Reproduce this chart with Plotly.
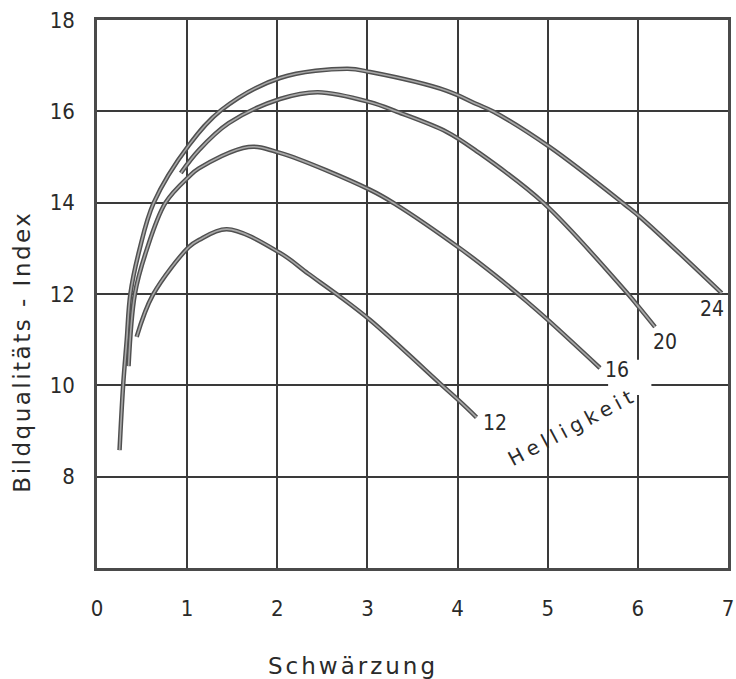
import plotly.graph_objects as go

# Helligkeit 24
x24 = [0.25, 0.29, 0.33, 0.37, 0.47, 0.63, 1.02, 1.38, 2.03, 2.78, 3.03, 3.88, 4.21, 4.40, 5.02, 5.86, 6.04, 6.93]
y24 = [8.58, 10.0, 11.0, 12.0, 12.96, 14.0, 15.26, 16.03, 16.73, 16.93, 16.86, 16.45, 16.16, 15.99, 15.22, 13.95, 13.66, 12.02]
# Helligkeit 20
x20 = [0.93, 1.13, 1.46, 2.03, 2.45, 3.03, 3.33, 3.88, 4.21, 4.95, 5.89, 6.0, 6.19]
y20 = [14.65, 15.15, 15.74, 16.27, 16.42, 16.2, 15.99, 15.55, 15.13, 14.0, 12.0, 11.74, 11.28]
# Helligkeit 16
x16 = [0.35, 0.42, 0.55, 0.76, 1.02, 1.13, 1.68, 2.03, 3.03, 3.30, 4.04, 4.41, 4.76, 5.02, 5.58]
y16 = [10.42, 12.0, 12.96, 14.0, 14.57, 14.75, 15.22, 15.09, 14.28, 13.98, 12.98, 12.42, 11.85, 11.40, 10.38]
# Helligkeit 12
x12 = [0.44, 0.62, 1.02, 1.13, 1.44, 2.03, 2.34, 2.67, 3.03, 3.85, 4.04, 4.21]
y12 = [11.06, 11.98, 13.03, 13.18, 13.42, 12.90, 12.45, 11.98, 11.43, 9.96, 9.62, 9.30]

series = [("24", x24, y24), ("20", x20, y20), ("16", x16, y16), ("12", x12, y12)]

# curve labels (text, x, y)
label_text = ["24", "20", "16", "12"]
label_x = [6.82, 6.30, 5.77, 4.41]
label_y = [11.67, 10.95, 10.34, 9.18]

x_ticks = [0, 1, 2, 3, 4, 5, 6, 7]
y_ticks = [8, 10, 12, 14, 16, 18]

FONT = "DejaVu Sans Condensed, Liberation Sans Narrow, DejaVu Sans"
TXT = "#2a2a2a"

fig = go.Figure()
for name, xs, ys in series:
    fig.add_trace(go.Scatter(x=xs, y=ys, mode="lines", line=dict(color="#505050", width=4.5, shape="spline", smoothing=1.0),
                             hoverinfo="skip", showlegend=False))
    fig.add_trace(go.Scatter(x=xs, y=ys, mode="lines", line=dict(color="#a8a8a8", width=1.6, shape="spline", smoothing=1.0),
                             name=name, showlegend=False))

# white patch where grid lines are interrupted around the labels
fig.add_shape(type="rect", x0=5.67, x1=6.15, y0=9.79, y1=10.56, xref="x", yref="y",
              fillcolor="white", line=dict(width=0), layer="above")

for t, lx, ly in zip(label_text, label_x, label_y):
    fig.add_annotation(x=lx, y=ly, text=t, showarrow=False, xanchor="center", yanchor="middle",
                       font=dict(family=FONT, size=21, color=TXT))

fig.add_annotation(x=5.27, y=9.09, text='<span style="letter-spacing:5px">Helligkeit</span>', showarrow=False,
                   textangle=-28, xanchor="center", yanchor="middle",
                   font=dict(family="DejaVu Sans", size=20, color=TXT))

fig.add_annotation(xref="paper", yref="paper", x=0.405, y=-0.178, text='<span style="letter-spacing:3px">Schwärzung</span>',
                   showarrow=False, xanchor="center", yanchor="middle",
                   font=dict(family="DejaVu Sans", size=23, color=TXT))
fig.add_annotation(xref="paper", yref="paper", x=-0.118, y=0.394, text='<span style="letter-spacing:2.5px">Bildqualitäts - Index</span>',
                   showarrow=False, textangle=-90, xanchor="center", yanchor="middle",
                   font=dict(family="DejaVu Sans", size=23, color=TXT))

fig.update_xaxes(range=[0, 7], tickvals=x_ticks, ticktext=[str(v) for v in x_ticks],
                 showgrid=True, gridcolor="#3a3a3a", gridwidth=1.5,
                 showline=True, linecolor="#4a4a4a", linewidth=2.5, mirror=True,
                 ticks="", ticklabelstandoff=19, zeroline=False, ticklabeloverflow="allow",
                 automargin=False,
                 tickfont=dict(family=FONT, size=22, color=TXT))
fig.update_yaxes(range=[6, 18], tickvals=y_ticks, ticktext=[str(v) for v in y_ticks],
                 showgrid=True, gridcolor="#3a3a3a", gridwidth=1.5,
                 showline=True, linecolor="#4a4a4a", linewidth=2.5, mirror=True,
                 ticks="", ticklabelstandoff=15, zeroline=False, automargin=False,
                 tickfont=dict(family=FONT, size=22, color=TXT))

fig.update_layout(width=736, height=679, margin=dict(l=97, r=8, t=20, b=111),
                  plot_bgcolor="white", paper_bgcolor="white", showlegend=False)

fig.write_html("out.html")
